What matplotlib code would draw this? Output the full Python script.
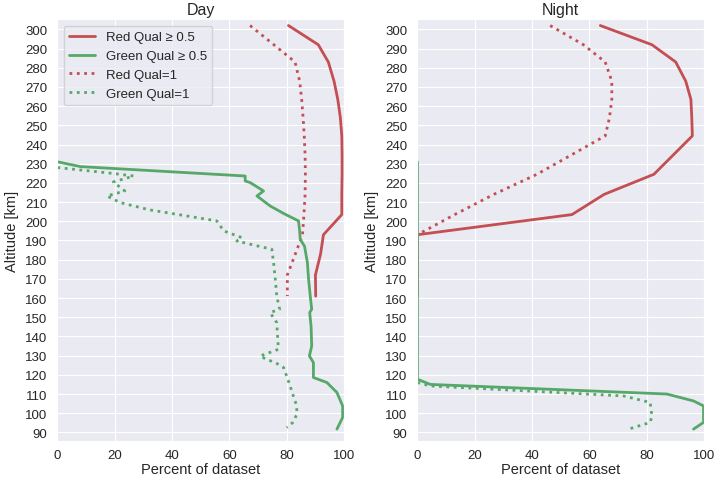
import matplotlib
matplotlib.use("Agg")
import matplotlib.pyplot as plt
import seaborn as sns

# red channel profiles (coarse altitude grid)
red_alt = [302, 292, 283, 273, 263.5, 254, 244.5, 234.5, 224.5, 214, 203.5, 193, 183, 172, 161]
day_red_q05 = [80.6, 91, 94.5, 96.5, 97.8, 98.7, 99.2, 99.3, 99.3, 99.2, 99.2, 92.8, 91.8, 90, 90.1]
day_red_q1 = [67.2, 75.5, 82.9, 84.5, 85.2, 85.7, 86.1, 86.4, 86.5, 86.4, 86, 85.5, 83, 80.2, 80.2]
night_red_q05 = [63.8, 81.8, 90.1, 93.6, 95.4, 95.7, 95.9, 89.2, 82.5, 65.1, 53.9, 0, 0, 0, 0]
night_red_q1 = [46.3, 57.9, 65.5, 67.8, 67.8, 67, 65.5, 53.6, 41.7, 26.6, 13, 0, 0, 0, 0]

# green channel profiles
day_green_q05_alt = [231, 228.5, 223.6, 221, 220.2, 215.8, 213.2, 208, 204, 200.2, 195, 190.6, 187,
                     178.5, 170, 161, 154.2, 152.4, 145, 135, 129.8, 126.4, 118.6, 116, 110.8,
                     103.8, 97.8, 91.7]
day_green_q05 = [0, 8, 65.5, 65.5, 67.2, 71.9, 69.6, 74.2, 79, 84.1, 84.5, 84.7, 86.2,
                 87.2, 87.6, 88.2, 88.7, 88, 88.5, 88.7, 87.9, 89.3, 89.3, 94, 97.5,
                 99.5, 99.5, 97.5]
day_green_q1_alt = [228, 225, 223.6, 220.5, 215.8, 213.2, 209.7, 206, 200.2, 195, 191.5, 189.7, 185.4,
                    178.5, 169.8, 161.1, 154.2, 152.4, 147.2, 133.3, 129.8, 128, 126.4, 123.8, 115,
                    108, 103.8, 99.3, 95, 92.5]
day_green_q1 = [0, 19, 26.6, 19.5, 23.5, 17.3, 22, 32, 55.6, 58, 64.3, 62.6, 74.8,
                75.4, 76, 76.5, 77.5, 74.2, 76.5, 77.1, 70.7, 73, 76, 78.9, 81,
                82.5, 83.5, 83.5, 82, 80]
night_green_q05_alt = [231, 117.7, 115, 110, 106.4, 103.8, 95.2, 91.7]
night_green_q05 = [0, 0, 4.5, 87, 96.3, 99.8, 99.8, 96.3]
night_green_q1_alt = [116, 114.2, 109, 105.6, 98.6, 95.2, 91.7]
night_green_q1 = [0, 4.5, 71.9, 81.2, 81.8, 81.2, 73.6]

yticks = list(range(90, 301, 10))
xticks = [0, 20, 40, 60, 80, 100]

sns.set_style("darkgrid")
plt.rcParams["font.family"] = ["Liberation Sans", "DejaVu Sans"]

red = sns.color_palette("deep")[3]
green = sns.color_palette("deep")[2]

fig, axes = plt.subplots(1, 2, figsize=(7.17, 4.81), dpi=100)
fig.subplots_adjust(left=0.0795, right=0.982, top=0.958, bottom=0.081, wspace=0.254)

panels = [
    ("Day", day_red_q05, day_red_q1, day_green_q05_alt, day_green_q05, day_green_q1_alt, day_green_q1),
    ("Night", night_red_q05, night_red_q1, night_green_q05_alt, night_green_q05, night_green_q1_alt, night_green_q1),
]

for ax, (title, r05, r1, g05_alt, g05, g1_alt, g1) in zip(axes, panels):
    ax.plot(r05, red_alt, color=red, lw=2, label="Red Qual \u2265 0.5")
    ax.plot(g05, g05_alt, color=green, lw=2, label="Green Qual \u2265 0.5", zorder=2.5)
    ax.plot(r1, red_alt, color=red, lw=2, ls=":", label="Red Qual=1")
    ax.plot(g1, g1_alt, color=green, lw=2, ls=":", label="Green Qual=1")
    ax.set_xlim(-0.15, 100)
    ax.set_ylim(85.5, 305.3)
    ax.set_xticks(xticks)
    ax.set_yticks(yticks)
    ax.tick_params(labelsize=9.5)
    ax.tick_params(axis="x", pad=2)
    ax.set_xlabel("Percent of dataset", fontsize=10.5, labelpad=1)
    ax.set_ylabel("Altitude [km]", fontsize=10.5)
    ax.set_title(title, fontsize=11.5, pad=4)

axes[0].legend(loc="upper left", fontsize=9.5)

fig.savefig("out.png", dpi=100)
